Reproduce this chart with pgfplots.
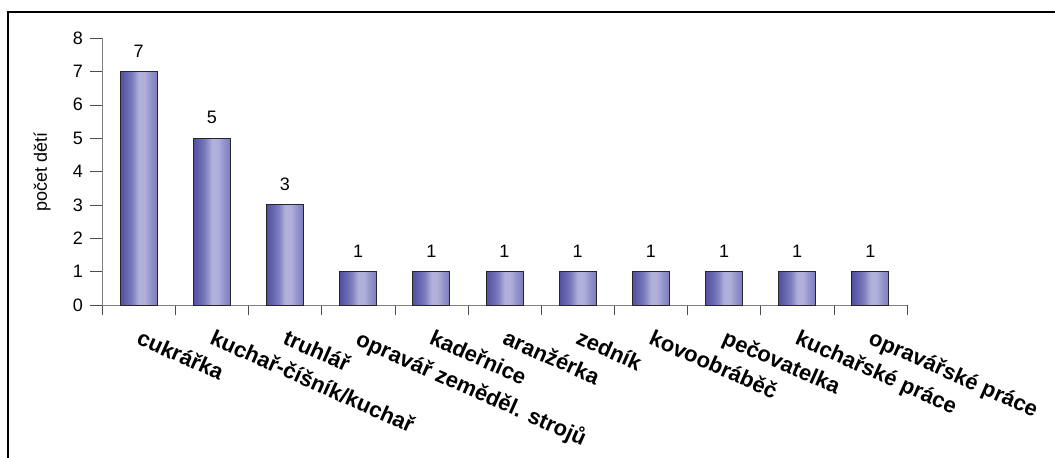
\documentclass[border=0pt]{standalone}
\usepackage{pgfplots}
\pgfplotsset{compat=1.18}
\usepackage{fontspec}
\setmainfont{Liberation Sans}
\definecolor{c0}{RGB}{80,80,160}
\definecolor{c1}{RGB}{100,100,175}
\definecolor{c2}{RGB}{124,124,190}
\definecolor{c4}{RGB}{176,176,218}
\definecolor{c5}{RGB}{148,148,204}
\definecolor{c6}{RGB}{124,124,190}
\definecolor{axgray}{RGB}{128,128,128}
\pgfdeclarehorizontalshading{cyl}{100bp}{color(0bp)=(c0); color(25bp)=(c0);
  color(33bp)=(c1); color(41bp)=(c2); color(50bp)=(c4);
  color(58bp)=(c4); color(66bp)=(c5); color(75bp)=(c6); color(100bp)=(c6)}
\pgfplotsset{cylbar/.style={ybar, bar width=18.5pt, bar shift=0pt,
  draw=black!85, line width=0.5pt, shade, shading=cyl}}
\begin{document}
\begin{tikzpicture}
\useasboundingbox (0,0) rectangle (527.5pt,228.5pt);
\begin{axis}[
  scale only axis,
  width=402.5pt, height=133.5pt,
  at={(51pt,76pt)}, anchor=south west,
  axis x line=bottom, axis y line=left,
  axis line style={draw=axgray, -},
  xmin=-0.5, xmax=10.5, ymin=0, ymax=8,
  ytick={0,...,8},
  xtick={0,...,10},
  xticklabels={cukrářka, kuchař-číšník/kuchař, truhlář, opravář zeměděl. strojů,
    kadeřnice, aranžérka, zedník, kovoobráběč, pečovatelka, kuchařské práce,
    opravářské práce},
  minor xtick={-0.5,0.5,...,10.5},
  tick align=outside,
  major tick length=6pt,
  x tick style={draw=none},
  minor x tick style={draw=black!70},
  y tick style={draw=black!70},
  minor tick length=5pt,
  tick label style={font=\fontsize{9}{10}\selectfont},
  /pgf/number format/assume math mode=true,
  xticklabel style={font=\fontsize{11}{12}\selectfont\bfseries, rotate=-24,
    anchor=north west, xshift=0.5pt, yshift=-1pt},
  ylabel={počet dětí},
  ylabel style={font=\fontsize{9}{10}\selectfont,
    at={(axis description cs:-0.0745,0.5)}, anchor=center},
  nodes near coords,
  every node near coord/.append style={font=\fontsize{9}{10}\selectfont, yshift=3.5pt},
  clip=false,
]
\addplot[cylbar] coordinates {(0,7)};
\addplot[cylbar] coordinates {(1,5)};
\addplot[cylbar] coordinates {(2,3)};
\addplot[cylbar] coordinates {(3,1)};
\addplot[cylbar] coordinates {(4,1)};
\addplot[cylbar] coordinates {(5,1)};
\addplot[cylbar] coordinates {(6,1)};
\addplot[cylbar] coordinates {(7,1)};
\addplot[cylbar] coordinates {(8,1)};
\addplot[cylbar] coordinates {(9,1)};
\addplot[cylbar] coordinates {(10,1)};
\end{axis}
\draw[line width=1pt] (4pt,-10pt) |- (540pt,222.5pt);
\end{tikzpicture}
\end{document}
